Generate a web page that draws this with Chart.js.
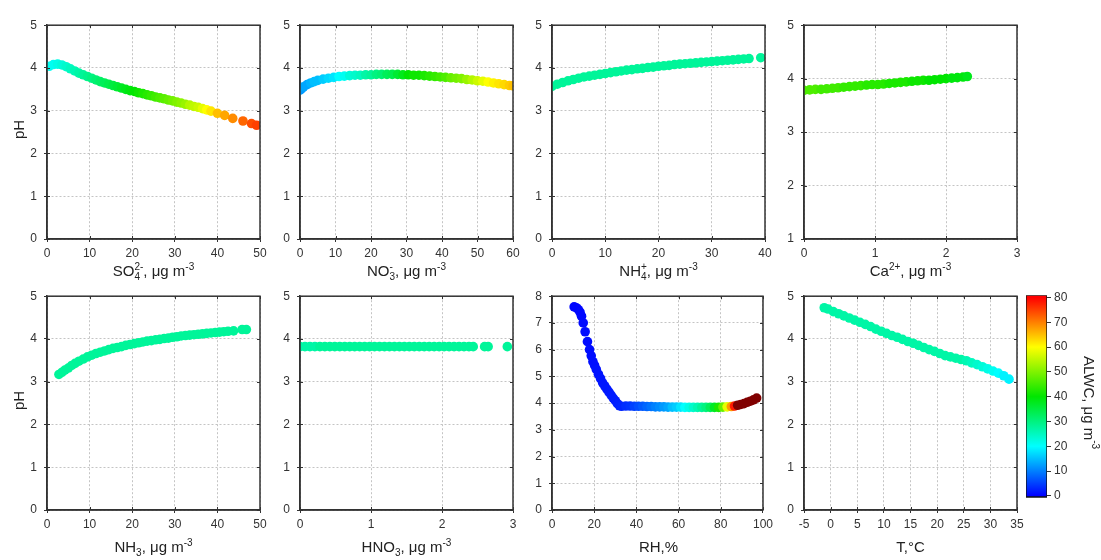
<!DOCTYPE html>
<html lang="en">
<head>
<meta charset="UTF-8" />
<title>pH vs aerosol components, coloured by ALWC</title>
<script src="https://cdn.jsdelivr.net/npm/chart.js"></script>
<style>
    body { margin: 0; background: #fff; }
    #wrap { position: relative; width: 1101px; height: 560px; overflow: hidden; }
    canvas { position: absolute; }
    .xt { position: absolute; font: 15px "Liberation Sans", Arial, sans-serif; color: #222; text-align: center; white-space: nowrap; line-height: 18px; }
    .xt sup, .xt sub { font-size: 10px; line-height: 0; }
    .ss { display: inline-block; vertical-align: -4px; font-size: 10px; line-height: 10px; text-align: left; }
    .ss span { display: block; }
    .vt { position: absolute; font: 15px "Liberation Sans", Arial, sans-serif; color: #222; white-space: nowrap; line-height: 18px; width: 18px; writing-mode: vertical-rl; text-align: center; }
    .vt sup { font-size: 10px; line-height: 0; }
</style>
</head>
<body>
<div id="wrap"></div>

<script>
    // ---- data ----
    const so4X = [0.5,1.5,2.5,3.5,4.5,5.5,6.5,7.5,8.5,9.5, 10.5,11.5,12.5,13.5,14.5,15.5,16.5,17.5,18.5,19.5, 20.5,21.5,22.5,23.5,24.5,25.5,26.5,27.5,28.5,29.5, 30.5,31.5,32.5,33.5,34.5,35.5,36.5,37.5, 38.5,40,41.7,43.6,46,48,49.2];
    const so4PH = [4.04,4.08,4.09,4.07,4.03,3.98,3.93,3.88,3.84,3.8, 3.76,3.72,3.68,3.65,3.62,3.59,3.56,3.53,3.5,3.47, 3.45,3.42,3.4,3.37,3.35,3.32,3.3,3.28,3.25,3.23, 3.2,3.18,3.15,3.13,3.1,3.08,3.05,3.02, 2.99,2.94,2.89,2.82,2.76,2.7,2.66];
    const so4ALWC = [21,21,22,23,24,25,26,27,28,29, 30,31,32,33,34,35,36,37,38,39, 40,41,42,43,44,45,46,47,48,49, 50,51,52,54,55,56,58,60, 62,65,67,69,72,74,75];

    const no3X = [0,0.5,1,2,3,4,5,6.5,8,9.5, 11,12.5,14,15.5,17,18.5,20,21.5,23,24.5, 26,27.5,29,30.5,32,33.5,35,36.5,38,39.5, 41,42.5,44,45.5,47,48.5,50,51.5,53,54.5, 56,57.5,59,60];
    const no3PH = [3.48,3.52,3.56,3.61,3.65,3.68,3.71,3.74,3.76,3.78, 3.8,3.81,3.82,3.83,3.83,3.84,3.84,3.85,3.85,3.85, 3.85,3.85,3.84,3.84,3.83,3.83,3.82,3.81,3.8,3.79, 3.78,3.77,3.76,3.75,3.73,3.72,3.7,3.69,3.67,3.65, 3.63,3.61,3.59,3.58];
    const no3ALWC = [12,12,13,13,14,15,15,16,17,18, 20,21,23,24,25,27,28,30,31,33, 34,36,38,40,41,41,42,43,44,45, 46,48,49,50,52,54,56,58,60,61, 62,63,64,65];

    const nh4X = [0,1,2,3,4,5,6,7,8,9, 10,11,12,13,14,15,16,17,18,19, 20,21,22,23,24,25,26,27,28,29, 30,31,32,33,34,35,36,37, 39.2];
    const nh4PH = [3.57,3.62,3.66,3.7,3.73,3.76,3.79,3.81,3.83,3.85, 3.87,3.89,3.91,3.93,3.95,3.96,3.98,3.99,4.01,4.02, 4.04,4.05,4.06,4.08,4.09,4.1,4.11,4.12,4.13,4.14, 4.15,4.16,4.17,4.18,4.19,4.2,4.21,4.22, 4.24];
    const nh4ALWC = [28,28,28,28,28,28,28,28,28,28, 28,28,28,28,28,28,28,28,28,28, 28,28,28,28,28,28,28,28,28,28, 28,28,28,28,28,28,28,28, 28];

    const caX = [0,0.08,0.16,0.24,0.32,0.4,0.48,0.56,0.64,0.72, 0.8,0.88,0.96,1.04,1.12,1.2,1.28,1.36,1.44,1.52, 1.6,1.68,1.76,1.84,1.92,2.0,2.08,2.16,2.24,2.3];
    const caPH = [3.78,3.79,3.8,3.8,3.81,3.82,3.83,3.84,3.85,3.86, 3.87,3.88,3.89,3.89,3.9,3.91,3.92,3.93,3.94,3.95, 3.96,3.97,3.97,3.98,3.99,4.0,4.01,4.02,4.03,4.04];
    const caALWC = [46,46,46,45,45,45,45,44,44,44, 44,43,43,43,43,42,42,42,42,41, 41,41,40,40,40,40,39,39,39,38];

    const nh3X = [2.8,3.5,4.2,5,5.8,6.6,7.5,8.5,9.5,10.5, 11.5,12.5,13.5,14.5,15.5,16.5,17.5,18.5,19.5,20.5, 21.5,22.5,23.5,24.5,25.5,26.5,27.5,28.5,29.5,30.5, 31.5,32.5,33.5,34.5,35.5,36.5,37.5,38.5,39.5,40.5, 41.5,42.5,43.8,45.8,46.8];
    const nh3PH = [3.17,3.22,3.27,3.32,3.38,3.43,3.48,3.53,3.58,3.62, 3.66,3.69,3.72,3.75,3.78,3.8,3.82,3.85,3.87,3.89, 3.91,3.93,3.95,3.96,3.98,3.99,4.01,4.02,4.04,4.05, 4.07,4.08,4.09,4.1,4.11,4.12,4.13,4.14,4.15,4.16, 4.17,4.18,4.19,4.22,4.22];
    const nh3ALWC = [28,28,28,28,28,28,28,28,28,28, 28,28,28,28,28,28,28,28,28,28, 28,28,28,28,28,28,28,28,28,28, 28,28,28,28,28,28,28,28,28,28, 28,28,28,28,28];

    const hno3X = [0,0.07,0.14,0.21,0.28,0.35,0.42,0.49,0.56,0.63, 0.7,0.77,0.84,0.91,0.98,1.05,1.12,1.19,1.26,1.33, 1.4,1.47,1.54,1.61,1.68,1.75,1.82,1.89,1.96,2.03, 2.1,2.17,2.24,2.31,2.38,2.44, 2.6,2.65,2.92];
    const hno3PH = [3.82,3.82,3.82,3.82,3.82,3.82,3.82,3.82,3.82,3.82, 3.82,3.82,3.82,3.82,3.82,3.82,3.82,3.82,3.82,3.82, 3.82,3.82,3.82,3.82,3.82,3.82,3.82,3.82,3.82,3.82, 3.82,3.82,3.82,3.82,3.82,3.82, 3.82,3.82,3.82];
    const hno3ALWC = [27,27,27,27,28,28,28,28,28,28, 28,28,28,28,28,28,28,28,28,28, 28,28,28,28,28,28,28,28,28,28, 28,28,28,28,28,28, 28,28,28];

    const rhX = [10.5,11.5,12.5,13.3,14,14.8,15.7,16.8,17.8,18.6, 19.4,20.2,21,22,23,24,25,26,27,28, 29,30,31,32,33, 35,37,39,41,43,45,47,49,51,53, 55,57,59,61,63,65,67,69,71,73, 75,77,79,81,83,85,86.5,88,89.5,91, 92.5,94,95.5,97];
    const rhPH = [7.6,7.57,7.5,7.4,7.25,7.0,6.67,6.3,6.0,5.77, 5.55,5.41,5.26,5.08,4.92,4.76,4.64,4.52,4.41,4.3, 4.19,4.09,3.98,3.9,3.88, 3.89,3.89,3.88,3.88,3.88,3.87,3.87,3.86,3.86,3.86, 3.85,3.85,3.85,3.85,3.84,3.84,3.84,3.84,3.84,3.84, 3.84,3.84,3.84,3.85,3.86,3.87,3.89,3.92,3.95,3.98, 4.03,4.07,4.12,4.19];
    const rhALWC = [0.5,0.5,0.5,0.6,0.6,0.7,0.8,0.9,1,1, 1.1,1.2,1.3,1.4,1.5,1.6,1.7,1.8,1.9,2, 2.1,2.2,2.4,2.6,2.8, 3.5,4,5,6,7,8,9,10,11,12, 13,15,16,18,20,22,24,26,28,30, 33,37,42,48,58,68,78,95,100,110, 120,130,140,150];

    const tX = [-1.2,-0.5,0.5,1.5,2.5,3.5,4.5,5.5,6.5,7.5, 8.5,9.5,10.5,11.5,12.5,13.5,14.5,15.5,16.5,17.5, 18.5,19.5,20.5,21.5,22.5,23.5,24.5,25.5,26.5,27.5, 28.5,29.5,30.5,31.5,32.5,33.5];
    const tPH = [4.73,4.7,4.64,4.59,4.54,4.49,4.44,4.39,4.34,4.29, 4.23,4.18,4.13,4.08,4.04,3.99,3.94,3.9,3.85,3.8, 3.75,3.71,3.66,3.61,3.58,3.55,3.52,3.49,3.44,3.4, 3.35,3.3,3.25,3.2,3.14,3.06];
    const tALWC = [27,27,27,27,27,27,27,27,27,27, 27,27,27,27,27,27,27,27,27,27, 27,27,27,27,27,27,27,26,25,24, 23,22,21,20,19,19];

    // tick labels
    const pHTicks = [0,1,2,3,4,5];
    const caPHTicks = [1,2,3,4,5];
    const rhPHTicks = [0,1,2,3,4,5,6,7,8];
    const so4Ticks = [0,10,20,30,40,50];
    const no3Ticks = [0,10,20,30,40,50,60];
    const nh4Ticks = [0,10,20,30,40];
    const caTicks = [0,1,2,3];
    const nh3Ticks = [0,10,20,30,40,50];
    const hno3Ticks = [0,1,2,3];
    const rhTicks = [0,20,40,60,80,100];
    const tTicks = [-5,0,5,10,15,20,25,30,35];
    const alwcTicks = [0,10,20,30,40,50,60,70,80];

    // ---- styling / layout ----
    const FONT = '"Liberation Sans", Arial, sans-serif';
    const INK = '#333';
    const colLeft = [47, 300, 552, 804];
    const rowTop = [19, 290];
    const PW = 213, PH = 220;
    const AXW = 32, AXH = 24, PADT = 8, PADR = 12;
    const titleTop = [262, 538];

    // jet-like colour scale of the colour bar
    const cmapStops = [[0, [0, 0, 255]], [20, [0, 255, 255]], [40, [0, 230, 0]], [60, [255, 255, 0]], [80, [255, 0, 0]]];
    function alwcColor(v) {
        if (v > 80) return 'rgb(128,0,0)';
        v = Math.max(0, v);
        for (let i = 1; i < cmapStops.length; i++) {
            const [v0, c0] = cmapStops[i - 1];
            const [v1, c1] = cmapStops[i];
            if (v <= v1) {
                const t = (v - v0) / (v1 - v0);
                return 'rgb(' + c0.map((c, k) => Math.round(c + (c1[k] - c) * t)).join(',') + ')';
            }
        }
    }

    const panels = [
        { x: so4X, y: so4PH, c: so4ALWC, xt: so4Ticks, yt: pHTicks, title: 'SO<span class="ss"><span>2-</span><span>4</span></span>, μg m<sup>-3</sup>' },
        { x: no3X, y: no3PH, c: no3ALWC, xt: no3Ticks, yt: pHTicks, title: 'NO<span class="ss"><span>-</span><span>3</span></span>, μg m<sup>-3</sup>' },
        { x: nh4X, y: nh4PH, c: nh4ALWC, xt: nh4Ticks, yt: pHTicks, title: 'NH<span class="ss"><span>+</span><span>4</span></span>, μg m<sup>-3</sup>' },
        { x: caX, y: caPH, c: caALWC, xt: caTicks, yt: caPHTicks, title: 'Ca<sup>2+</sup>, μg m<sup>-3</sup>' },
        { x: nh3X, y: nh3PH, c: nh3ALWC, xt: nh3Ticks, yt: pHTicks, title: 'NH<sub>3</sub>, μg m<sup>-3</sup>' },
        { x: hno3X, y: hno3PH, c: hno3ALWC, xt: hno3Ticks, yt: pHTicks, title: 'HNO<sub>3</sub>, μg m<sup>-3</sup>' },
        { x: rhX, y: rhPH, c: rhALWC, xt: rhTicks, yt: rhPHTicks, title: 'RH,%' },
        { x: tX, y: tPH, c: tALWC, xt: tTicks, yt: pHTicks, title: 'T,°C' }
    ];

    // box round the plot area, with short inward ticks
    const framePlugin = {
        id: 'frame',
        afterDraw(chart) {
            const { ctx, chartArea: a, scales: { x, y } } = chart;
            ctx.save();
            ctx.strokeStyle = INK;
            ctx.lineWidth = 1;
            ctx.beginPath();
            x.ticks.forEach(t => {
                const px = Math.round(x.getPixelForValue(t.value)) + 0.5;
                ctx.moveTo(px, a.bottom); ctx.lineTo(px, a.bottom - 3);
                ctx.moveTo(px, a.top); ctx.lineTo(px, a.top + 3);
            });
            y.ticks.forEach(t => {
                const py = Math.round(y.getPixelForValue(t.value)) + 0.5;
                ctx.moveTo(a.left, py); ctx.lineTo(a.left + 3, py);
                ctx.moveTo(a.right, py); ctx.lineTo(a.right - 3, py);
            });
            ctx.stroke();
            ctx.lineWidth = 1.5;
            ctx.strokeRect(a.left, a.top, a.width, a.height);
            ctx.restore();
        }
    };

    function scaleOpts(ticks, axis) {
        return {
            type: 'linear',
            min: ticks[0],
            max: ticks[ticks.length - 1],
            afterBuildTicks: s => { s.ticks = ticks.map(v => ({ value: v })); },
            afterFit: s => { if (axis === 'x') s.height = AXH; else s.width = AXW; },
            grid: { color: '#c4c4c4', lineWidth: 1, tickLength: 3, tickColor: INK, tickWidth: 1 },
            border: { display: true, color: INK, width: 1.5, dash: [2, 2] },
            ticks: { color: INK, font: { family: FONT, size: 12 }, padding: axis === 'x' ? 4 : 7, maxRotation: 0, autoSkip: false }
        };
    }

    const wrap = document.getElementById('wrap');

    function addCanvas(left, top, w, h) {
        const cv = document.createElement('canvas');
        cv.width = w; cv.height = h;
        cv.style.left = left + 'px'; cv.style.top = top + 'px';
        cv.style.width = w + 'px'; cv.style.height = h + 'px';
        wrap.appendChild(cv);
        return cv;
    }

    function addText(cls, html, css) {
        const d = document.createElement('div');
        d.className = cls;
        d.innerHTML = html;
        Object.assign(d.style, css);
        wrap.appendChild(d);
        return d;
    }

    panels.forEach((p, i) => {
        const row = Math.floor(i / 4), col = i % 4;
        const L = colLeft[col], T = rowTop[row];
        const cv = addCanvas(L - AXW, T - PADT, PW + AXW + PADR, PH + PADT + AXH);
        new Chart(cv, {
            type: 'scatter',
            data: {
                datasets: [{
                    data: p.x.map((v, k) => ({ x: v, y: p.y[k] })),
                    pointRadius: 4.8,
                    pointHoverRadius: 4.8,
                    pointBorderWidth: 0,
                    borderColor: 'rgba(0,0,0,0)',
                    pointBackgroundColor: p.c.map(alwcColor),
                    clip: 0
                }]
            },
            options: {
                responsive: false,
                animation: false,
                events: [],
                layout: { padding: { top: PADT, right: PADR, left: 0, bottom: 0 } },
                plugins: { legend: { display: false }, tooltip: { enabled: false } },
                scales: { x: scaleOpts(p.xt, 'x'), y: scaleOpts(p.yt, 'y') }
            },
            plugins: [framePlugin]
        });
        addText('xt', p.title, { left: L + 'px', width: PW + 'px', top: titleTop[row] + 'px' });
        if (col === 0) {
            // vertical text read bottom to top
            addText('vt', 'pH', { left: '10px', top: T + 'px', height: PH + 'px', transform: 'rotate(180deg)' });
        }
    });

    // colour bar
    const cbCanvas = addCanvas(1026, 285, 75, 223);
    new Chart(cbCanvas, {
        type: 'bar',
        data: {
            labels: ['ALWC'],
            datasets: [{
                data: [[-0.76, 80.9]],
                backgroundColor: ctx => {
                    const ch = ctx.chart;
                    if (!ch.chartArea) return 'blue';
                    const ys = ch.scales.y;
                    const g = ch.ctx.createLinearGradient(0, ys.getPixelForValue(0), 0, ys.getPixelForValue(80));
                    cmapStops.forEach(([v, c]) => g.addColorStop(v / 80, 'rgb(' + c.join(',') + ')'));
                    return g;
                },
                borderColor: '#111',
                borderWidth: { top: 1, left: 1, right: 1, bottom: 2 },
                borderSkipped: false,
                barPercentage: 1,
                categoryPercentage: 1
            }]
        },
        options: {
            responsive: false,
            animation: false,
            events: [],
            layout: { padding: { top: 8, right: 0, left: 0, bottom: 0 } },
            plugins: { legend: { display: false }, tooltip: { enabled: false } },
            scales: {
                x: { display: false },
                y: {
                    position: 'right',
                    min: -0.76,
                    max: 80.9,
                    afterBuildTicks: s => { s.ticks = alwcTicks.map(v => ({ value: v })); },
                    afterFit: s => { s.width = 54; },
                    grid: { drawOnChartArea: false, tickLength: 4, tickColor: INK },
                    border: { display: false },
                    ticks: { color: INK, font: { family: FONT, size: 12 }, padding: 3 }
                }
            }
        }
    });
    // colour bar title, read top to bottom
    addText('vt', 'ALWC, μg m<sup>-3</sup>', { left: '1080px', top: '303px', height: '200px' });
</script>
</body>
</html>
